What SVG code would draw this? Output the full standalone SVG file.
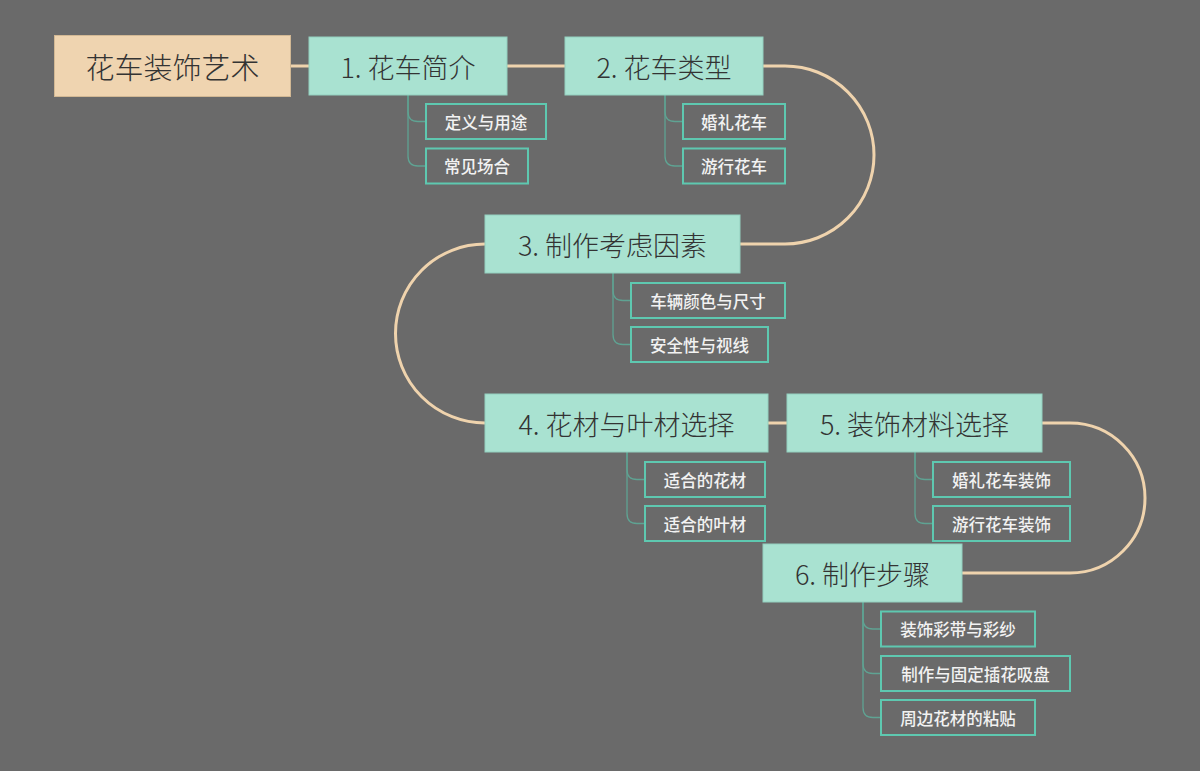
<svg xmlns="http://www.w3.org/2000/svg" width="1200" height="771" viewBox="0 0 1200 771">
<style>
.bg{fill:#6a6a6a}
.root rect{fill:#efd4b0;stroke:#d2b894;stroke-width:1}
.main rect{fill:#a9e2d1;stroke:#93d0bf;stroke-width:1}
.sub rect{fill:#6a6a6a;stroke:#5ec8b0;stroke-width:2}
text{font-family:"Noto Sans CJK SC","Noto Sans",sans-serif;text-anchor:middle;dominant-baseline:central}
.root text{font-size:29px;fill:#333;font-weight:300}
.main text{font-size:27px;fill:#333;font-weight:300}
.sub text{font-size:16.5px;fill:#f2f2f2;font-weight:500}
.trunk{fill:none;stroke:#efd3ad;stroke-width:3}
.br{fill:none;stroke:#5fa393;stroke-width:1.3}
</style>
<rect class="bg" x="0" y="0" width="1200" height="771"/>
<g id="connectors">
<path class="trunk" d="M290,66 H309"/>
<path class="trunk" d="M507,66 H565"/>
<path class="trunk" d="M763,66 H785 A89,89 0 0 1 785,244 H740"/>
<path class="trunk" d="M485,244 A89.5,89.5 0 0 0 485,423"/>
<path class="trunk" d="M768,423 H787"/>
<path class="trunk" d="M1042,423 H1070 A75,75 0 0 1 1070,573 H962"/>
<path class="br" d="M408,95 V111.5 Q408,121.5 418,121.5 H426"/>
<path class="br" d="M408,95 V156 Q408,166 418,166 H426"/>
<path class="br" d="M665,95 V111.5 Q665,121.5 675,121.5 H683"/>
<path class="br" d="M665,95 V156 Q665,166 675,166 H683"/>
<path class="br" d="M613,273 V290.5 Q613,300.5 623,300.5 H631"/>
<path class="br" d="M613,273 V334.5 Q613,344.5 623,344.5 H631"/>
<path class="br" d="M627,452 V469.5 Q627,479.5 637,479.5 H645"/>
<path class="br" d="M627,452 V513.5 Q627,523.5 637,523.5 H645"/>
<path class="br" d="M915,452 V469.5 Q915,479.5 925,479.5 H933"/>
<path class="br" d="M915,452 V513.5 Q915,523.5 925,523.5 H933"/>
<path class="br" d="M863,602 V619 Q863,629 873,629 H881"/>
<path class="br" d="M863,602 V663.5 Q863,673.5 873,673.5 H881"/>
<path class="br" d="M863,602 V707.5 Q863,717.5 873,717.5 H881"/>
</g>
<g id="root" class="root"><rect x="54.5" y="35.5" width="236" height="61"/><text x="172.5" y="66">花车装饰艺术</text></g>
<g id="n1" class="main"><rect x="309" y="37" width="198" height="58"/><text x="408" y="66">1. 花车简介</text></g>
<g id="n2" class="main"><rect x="565" y="37" width="198" height="58"/><text x="664" y="66">2. 花车类型</text></g>
<g id="n3" class="main"><rect x="485" y="215" width="255" height="58"/><text x="612.5" y="244">3. 制作考虑因素</text></g>
<g id="n4" class="main"><rect x="485" y="394" width="283" height="58"/><text x="626.5" y="423">4. 花材与叶材选择</text></g>
<g id="n5" class="main"><rect x="787" y="394" width="255" height="58"/><text x="914.5" y="423">5. 装饰材料选择</text></g>
<g id="n6" class="main"><rect x="763" y="544" width="199" height="58"/><text x="862.5" y="573">6. 制作步骤</text></g>
<g id="s1a" class="sub"><rect x="426" y="104" width="120" height="35"/><text x="486" y="121.5">定义与用途</text></g>
<g id="s1b" class="sub"><rect x="426" y="148.5" width="102" height="35"/><text x="477" y="166">常见场合</text></g>
<g id="s2a" class="sub"><rect x="683" y="104" width="102" height="35"/><text x="734" y="121.5">婚礼花车</text></g>
<g id="s2b" class="sub"><rect x="683" y="148.5" width="102" height="35"/><text x="734" y="166">游行花车</text></g>
<g id="s3a" class="sub"><rect x="631" y="283" width="154" height="35"/><text x="708" y="300.5">车辆颜色与尺寸</text></g>
<g id="s3b" class="sub"><rect x="631" y="327" width="137" height="35"/><text x="699.5" y="344.5">安全性与视线</text></g>
<g id="s4a" class="sub"><rect x="645" y="462" width="120" height="35"/><text x="705" y="479.5">适合的花材</text></g>
<g id="s4b" class="sub"><rect x="645" y="506" width="120" height="35"/><text x="705" y="523.5">适合的叶材</text></g>
<g id="s5a" class="sub"><rect x="933" y="462" width="137" height="35"/><text x="1001.5" y="479.5">婚礼花车装饰</text></g>
<g id="s5b" class="sub"><rect x="933" y="506" width="137" height="35"/><text x="1001.5" y="523.5">游行花车装饰</text></g>
<g id="s6a" class="sub"><rect x="881" y="611.5" width="154" height="35"/><text x="958" y="629">装饰彩带与彩纱</text></g>
<g id="s6b" class="sub"><rect x="881" y="656" width="189" height="35"/><text x="975.5" y="673.5">制作与固定插花吸盘</text></g>
<g id="s6c" class="sub"><rect x="881" y="700" width="154" height="35"/><text x="958" y="717.5">周边花材的粘贴</text></g>
</svg>
